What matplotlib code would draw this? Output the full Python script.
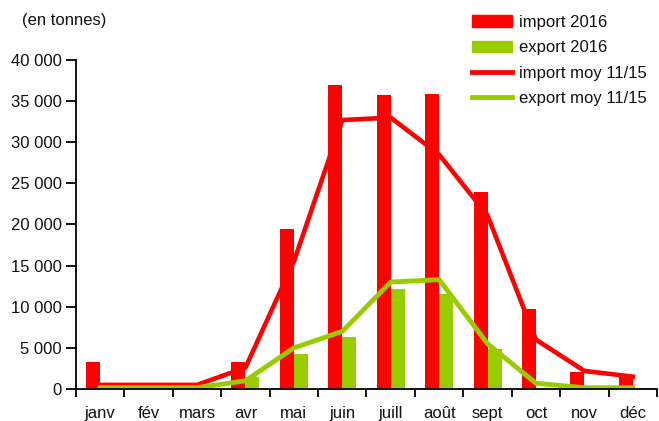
import numpy as np
import matplotlib.pyplot as plt
from matplotlib.patches import Patch
from matplotlib.lines import Line2D
from matplotlib.ticker import FuncFormatter

plt.rcParams['font.family'] = ['Liberation Sans', 'DejaVu Sans']

months = ['janv', 'fév', 'mars', 'avr', 'mai', 'juin', 'juill', 'août',
          'sept', 'oct', 'nov', 'déc']
import_2016 = [3300, 0, 0, 3300, 19400, 36900, 35700, 35900, 24000, 9700, 2100, 1500]
export_2016 = [0, 0, 0, 1500, 4300, 6300, 12200, 11500, 4900, 0, 0, 0]
import_moy = [500, 500, 500, 2600, 15500, 32700, 33000, 28500, 21100, 6000, 2200, 1500]
export_moy = [150, 150, 150, 1000, 5000, 7000, 13000, 13300, 5500, 700, 150, 150]

red = '#FF0000'
green = '#99CC00'
txt = '#111111'
fs = 12

fig = plt.figure(figsize=(6.59, 4.21), dpi=100)
ax = fig.add_axes([76 / 659, 32 / 421, 581 / 659, 329 / 421])

x = np.arange(len(months))
w = 0.29
ax.bar(x - w / 2, import_2016, width=w, color=red, zorder=2)
ax.bar(x + w / 2, export_2016, width=w, color=green, zorder=2)
ax.plot(x, import_moy, color=red, lw=3.3, zorder=3, solid_joinstyle='miter')
ax.plot(x, export_moy, color=green, lw=3.5, zorder=4, solid_joinstyle='miter')

ax.set_xlim(-0.5, 11.5)
ax.set_ylim(0, 40000)
ax.set_yticks(np.arange(0, 40001, 5000))
ax.yaxis.set_major_formatter(FuncFormatter(lambda v, p: f'{int(v):,}'.replace(',', ' ')))
ax.set_xticks(x)
ax.set_xticklabels(months)
ax.set_xticks(np.arange(-0.5, 12, 1), minor=True)
ax.tick_params(axis='x', which='major', length=0, pad=12, labelsize=fs, labelcolor=txt)
ax.tick_params(axis='x', which='minor', length=6, width=1.3, color='black', direction='out')
ax.tick_params(axis='y', length=7, width=1.3, pad=3, labelsize=fs, labelcolor=txt)

for s in ['top', 'right']:
    ax.spines[s].set_visible(False)
for s in ['left', 'bottom']:
    ax.spines[s].set_linewidth(1.3)
ax.spines['bottom'].set_zorder(5)

fig.text(22 / 659, 1 - 20 / 421, '(en tonnes)', fontsize=fs, color=txt, va='center')

handles = [Patch(color=red), Patch(color=green),
           Line2D([], [], color=red, lw=3.5),
           Line2D([], [], color=green, lw=3.5)]
labels = ['import 2016', 'export 2016', 'import moy 11/15', 'export moy 11/15']
leg = fig.legend(handles, labels, loc='upper left', bbox_to_anchor=(472 / 659, 1 - 15 / 421),
                 frameon=False, fontsize=fs, handlelength=2.4, handletextpad=0.4,
                 labelspacing=0.62, borderaxespad=0, borderpad=0)
for t in leg.get_texts():
    t.set_color(txt)

fig.savefig('out.png', dpi=100)
